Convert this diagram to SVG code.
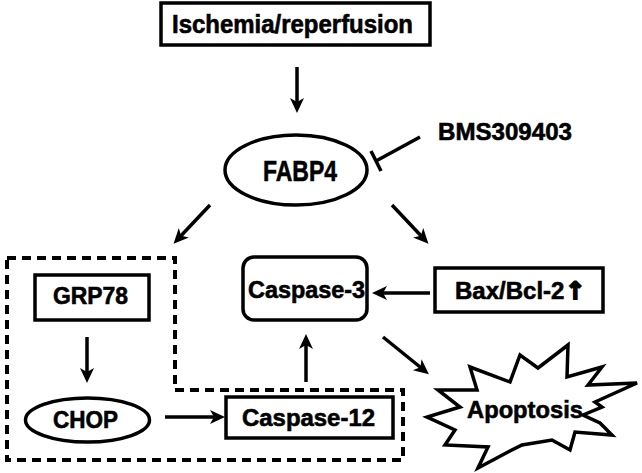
<svg xmlns="http://www.w3.org/2000/svg" width="642" height="473" viewBox="0 0 642 473">
<defs>
<style>
.box{fill:#fff;stroke:#000;stroke-width:3.5}
.t{font-family:"Liberation Sans",Arial,sans-serif;font-weight:bold;font-size:24px;fill:#000;stroke:#000;stroke-width:0.6}
.conn line{stroke:#000;stroke-width:3.5}
.arr{marker-end:url(#ah)}
.dash{fill:none;stroke:#000;stroke-width:4;stroke-dasharray:9 6}
</style>
<marker id="ah" markerWidth="16" markerHeight="16" refX="10" refY="7" orient="auto" markerUnits="userSpaceOnUse">
<path d="M0,0 L15,7 L0,14 L4,7 Z" fill="#000"/>
</marker>
</defs>
<rect width="642" height="473" fill="#fff"/>
<path id="er-stress-region" class="dash" d="M7,258 H175 V390 H403 V460 H7 Z"/>
<g id="ischemia">
<rect class="box" x="161" y="3" width="269" height="42"/>
<text class="t" x="172" y="33" style="font-size:25px" textLength="241" lengthAdjust="spacingAndGlyphs">Ischemia/reperfusion</text>
</g>
<g id="fabp4">
<ellipse class="box" cx="296" cy="170" rx="71" ry="35"/>
<text class="t" x="263" y="181" style="font-size:30px" textLength="74" lengthAdjust="spacingAndGlyphs">FABP4</text>
</g>
<g id="bms">
<text class="t" x="438" y="140" textLength="134" lengthAdjust="spacingAndGlyphs">BMS309403</text>
</g>
<g id="grp78">
<rect class="box" x="35" y="275" width="114" height="45"/>
<text class="t" x="53" y="304" textLength="75" lengthAdjust="spacingAndGlyphs">GRP78</text>
</g>
<g id="chop">
<ellipse class="box" cx="87.5" cy="420" rx="62" ry="22"/>
<text class="t" x="53" y="428" textLength="65" lengthAdjust="spacingAndGlyphs">CHOP</text>
</g>
<g id="caspase12">
<rect class="box" x="226" y="397" width="167" height="41"/>
<text class="t" x="242" y="426" textLength="133" lengthAdjust="spacingAndGlyphs">Caspase-12</text>
</g>
<g id="caspase3">
<rect class="box" x="243" y="257" width="124" height="63" rx="11"/>
<text class="t" x="248" y="298" textLength="117" lengthAdjust="spacingAndGlyphs">Caspase-3</text>
</g>
<g id="baxbcl2">
<rect class="box" x="435" y="268" width="168" height="44"/>
<text class="t" x="455" y="299">Bax/Bcl-2<tspan x="565" style="font-family:'DejaVu Sans',sans-serif;stroke-width:1.8">↑</tspan></text>
</g>
<g id="apoptosis">
<polygon class="box" points="470,367 510,382 520,355 538,368 568,345 567,377 602,367 588,385 637,383 595,402 602,407 583,415 600,423 612,435 575,432 570,450 552,440 522,445 508,452 478,468 488,447 445,445 455,430 427,417 460,407 438,390 477,390"/>
<text class="t" x="467" y="418" textLength="116" lengthAdjust="spacingAndGlyphs">Apoptosis</text>
</g>
<g id="connectors" class="conn">
<line class="arr" x1="297" y1="67" x2="297" y2="108"/>
<line class="arr" x1="210" y1="205" x2="177" y2="240"/>
<line class="arr" x1="392" y1="205" x2="425" y2="240"/>
<line class="arr" x1="430" y1="293" x2="377" y2="293"/>
<line class="arr" x1="87" y1="337" x2="87" y2="378"/>
<line class="arr" x1="165" y1="417" x2="220" y2="417"/>
<line class="arr" x1="306" y1="382" x2="306" y2="339"/>
<line class="arr" x1="383" y1="337" x2="425" y2="371"/>
<line x1="420" y1="137" x2="376" y2="161"/>
<line x1="371" y1="151" x2="381" y2="171"/>
</g>
</svg>
